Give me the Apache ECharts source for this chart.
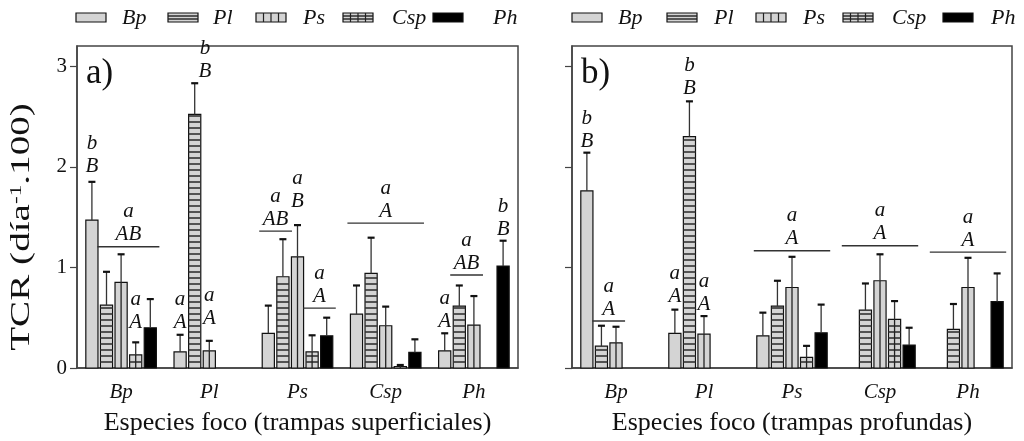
<!DOCTYPE html>
<html><head><meta charset="utf-8">
<script src="https://cdn.jsdelivr.net/npm/echarts@6/dist/echarts.min.js"></script>
<style>html,body{margin:0;padding:0;background:#fff}#c{width:1024px;height:441px}</style>
</head><body><div id="c"></div>
<script>
// ---------- data ----------
const categories = ['Bp', 'Pl', 'Ps', 'Csp', 'Ph'];
const species = ['Bp', 'Pl', 'Ps', 'Csp', 'Ph'];
const yTickValues = [0, 1, 2, 3];

// a) trampas superficiales: mean and SE for each species (bar) in each focus category
const supBp  = [1.47, 0.16, 0.345, 0.536, 0.17];
const supPl  = [0.625, 2.52, 0.907, 0.94, 0.615];
const supPs  = [0.85, 0.17, 1.105, 0.42, 0.427];
const supCsp = [0.13, null, 0.16, 0.015, null];
const supPh  = [0.40, null, 0.32, 0.155, 1.013];
const supBpSE  = [0.38, 0.17, 0.275, 0.284, 0.175];
const supPlSE  = [0.331, 0.31, 0.373, 0.355, 0.205];
const supPsSE  = [0.28, 0.10, 0.315, 0.19, 0.288];
const supCspSE = [0.125, null, 0.165, 0.015, null];
const supPhSE  = [0.285, null, 0.18, 0.13, 0.252];

// b) trampas profundas
const profBp  = [1.76, 0.345, 0.32, null, null];
const profPl  = [0.218, 2.30, 0.615, 0.576, 0.384];
const profPs  = [0.25, 0.337, 0.80, 0.867, 0.80];
const profCsp = [null, null, 0.106, 0.483, null];
const profPh  = [null, null, 0.35, 0.228, 0.66];
const profBpSE  = [0.38, 0.235, 0.23, null, null];
const profPlSE  = [0.202, 0.35, 0.252, 0.264, 0.252];
const profPsSE  = [0.16, 0.179, 0.305, 0.263, 0.295];
const profCspSE = [null, null, 0.114, 0.182, null];
const profPhSE  = [null, null, 0.28, 0.172, 0.28];

// significance letters: [category, first bar, last bar, level (TCR), lower letter, upper letter, bracket line]
const supLetters = [
  [0, 0, 0, 1.88, 'b', 'B', 0],
  [0, 1, 4, 1.205, 'a', 'AB', 1],
  [0, 3, 3, 0.33, 'a', 'A', 0],
  [1, 0, 0, 0.33, 'a', 'A', 0],
  [1, 1.7, 1.7, 2.825, 'b', 'B', 0],
  [1, 2, 2, 0.37, 'a', 'A', 0],
  [2, 0, 1, 1.36, 'a', 'AB', 1],
  [2, 2, 2, 1.54, 'a', 'B', 0],
  [2, 3, 4, 0.596, 'a', 'A', 1],
  [3, 0, 4, 1.44, 'a', 'A', 1],
  [4, 0, 0, 0.34, 'a', 'A', 0],
  [4, 1, 2, 0.924, 'a', 'AB', 1],
  [4, 4, 4, 1.255, 'b', 'B', 0]
];
const profLetters = [
  [0, 0, 0, 2.13, 'b', 'B', 0],
  [0, 1, 2, 0.467, 'a', 'A', 1],
  [1, 0, 0, 0.59, 'a', 'A', 0],
  [1, 1, 1, 2.655, 'b', 'B', 0],
  [1, 2, 2, 0.51, 'a', 'A', 0],
  [2, 0, 4, 1.165, 'a', 'A', 1],
  [3, 0, 4, 1.215, 'a', 'A', 1],
  [4, 0, 4, 1.152, 'a', 'A', 1]
];

const panelNames = ['Especies foco (trampas superficiales)', 'Especies foco (trampas profundas)'];
const panelTags = ['a)', 'b)'];

// ---------- drawing ----------
const FONT = 'Liberation Serif';
const GRAY = '#d4d4d4';
const INK = '#111';
const AX = '#444';

function layout(api) {
  const band = api.size([1, 0])[0];
  const bw = band * 0.8 / 5.8;
  return { bw: bw, pitch: bw * 1.2 };
}

function barSeries(g, s, vals, ses) {
  const data = vals.map((v, i) => [i, v, ses[i]]).filter(d => d[1] != null);
  return {
    type: 'custom', name: species[s], xAxisIndex: g, yAxisIndex: g, data: data, z: 3,
    renderItem: function (params, api) {
      const cat = api.value(0), v = api.value(1), se = api.value(2);
      const L = layout(api);
      const base = api.coord([cat, 0]);
      const top = api.coord([cat, v]);
      const et = api.coord([cat, v + se]);
      const cx = base[0] + (s - 2) * L.pitch;
      const x0 = cx - L.bw / 2;
      const kids = [];
      kids.push({ type: 'rect', shape: { x: x0, y: top[1], width: L.bw, height: base[1] - top[1] },
        style: { fill: s === 4 ? '#000' : GRAY, stroke: INK, lineWidth: 1.2 } });
      if (s === 1 || s === 3) {
        for (let y = base[1] - 6; y > top[1] + 1.5; y -= 6) {
          kids.push({ type: 'line', shape: { x1: x0, y1: y, x2: x0 + L.bw, y2: y },
            style: { stroke: '#333', lineWidth: 1.6 } });
        }
      }
      if (s === 2 || s === 3) {
        for (let k = -2; k <= 2; k++) {
          const xx = cx + k * 7.5;
          if (Math.abs(xx - cx) < L.bw / 2 - 1) {
            kids.push({ type: 'line', shape: { x1: xx, y1: top[1], x2: xx, y2: base[1] },
              style: { stroke: '#222', lineWidth: 1.3 } });
          }
        }
      }
      kids.push({ type: 'line', shape: { x1: cx, y1: top[1], x2: cx, y2: et[1] },
        style: { stroke: '#333', lineWidth: 1.3 } });
      kids.push({ type: 'line', shape: { x1: cx - 3.5, y1: et[1], x2: cx + 3.5, y2: et[1] },
        style: { stroke: INK, lineWidth: 2.2 } });
      return { type: 'group', children: kids };
    }
  };
}

function letterSeries(g, rows) {
  return {
    type: 'custom', xAxisIndex: g, yAxisIndex: g, z: 4,
    data: rows.map(r => [r[0], r[3]]),
    renderItem: function (params, api) {
      const r = rows[params.dataIndex];
      const L = layout(api);
      const p = api.coord([r[0], r[3]]);
      const xa = p[0] + (r[1] - 2) * L.pitch;
      const xb = p[0] + (r[2] - 2) * L.pitch;
      const cx = (xa + xb) / 2;
      const kids = [];
      if (r[6]) {
        kids.push({ type: 'line', shape: { x1: xa - L.bw / 2 - 3, y1: p[1], x2: xb + L.bw / 2 + 3, y2: p[1] },
          style: { stroke: '#333', lineWidth: 1.3 } });
      }
      const st = { font: 'italic 21px "' + FONT + '"', fill: INK, align: 'center', verticalAlign: 'middle' };
      kids.push({ type: 'text', x: cx, y: p[1] - 12, style: Object.assign({ text: r[5] }, st) });
      kids.push({ type: 'text', x: cx, y: p[1] - 35, style: Object.assign({ text: r[4] }, st) });
      return { type: 'group', children: kids };
    }
  };
}

const grids = [
  { left: 77, right: 506, top: 46, bottom: 73 },
  { left: 572, right: 12, top: 46, bottom: 73 }
];

const xAxes = grids.map((gr, g) => ({
  type: 'category', gridIndex: g, data: categories, boundaryGap: true,
  axisLine: { lineStyle: { color: AX, width: 1.5 } },
  axisTick: { alignWithLabel: true, length: 9, lineStyle: { color: AX, width: 1.2 } },
  axisLabel: { fontFamily: FONT, fontStyle: 'italic', fontSize: 21, color: INK, margin: 14 },
  name: panelNames[g], nameLocation: 'middle', nameGap: 42,
  nameTextStyle: { fontFamily: FONT, fontSize: 26, color: INK }
}));

const yAxes = grids.map((gr, g) => ({
  type: 'value', gridIndex: g, min: 0, max: 3.2, interval: 1,
  splitLine: { show: false },
  axisLine: { show: true, lineStyle: { color: AX, width: 1.5 } },
  axisTick: { show: true, length: 7, customValues: yTickValues, lineStyle: { color: AX, width: 1.2 } },
  axisLabel: { show: g === 0, customValues: yTickValues, fontFamily: FONT, fontSize: 21, color: INK, margin: 10 }
}));

const series = [
  barSeries(0, 0, supBp, supBpSE), barSeries(0, 1, supPl, supPlSE), barSeries(0, 2, supPs, supPsSE),
  barSeries(0, 3, supCsp, supCspSE), barSeries(0, 4, supPh, supPhSE),
  barSeries(1, 0, profBp, profBpSE), barSeries(1, 1, profPl, profPlSE), barSeries(1, 2, profPs, profPsSE),
  barSeries(1, 3, profCsp, profCspSE), barSeries(1, 4, profPh, profPhSE),
  letterSeries(0, supLetters), letterSeries(1, profLetters)
];

// legend drawn as graphics
function legendIcon(s, x, y) {
  const w = 30, h = 9;
  const kids = [{ type: 'rect', shape: { x: x, y: y, width: w, height: h },
    style: { fill: s === 4 ? '#000' : GRAY, stroke: INK, lineWidth: 1.2 } }];
  if (s === 1 || s === 3) {
    [1, 2].forEach(k => kids.push({ type: 'line', shape: { x1: x, y1: y + k * h / 3, x2: x + w, y2: y + k * h / 3 },
      style: { stroke: '#222', lineWidth: 1.4 } }));
  }
  if (s === 2 || s === 3) {
    [1, 2, 3].forEach(k => kids.push({ type: 'line', shape: { x1: x + k * w / 4, y1: y, x2: x + k * w / 4, y2: y + h },
      style: { stroke: '#222', lineWidth: 1.2 } }));
  }
  return kids;
}
const legendRectX = [[76, 168, 256, 343, 433], [572, 667, 756, 843, 943]];
const legendTextX = [[122, 213, 303, 392, 493], [618, 714, 803, 892, 991]];
const graphics = [];
for (let g = 0; g < 2; g++) {
  for (let s = 0; s < 5; s++) {
    legendIcon(s, legendRectX[g][s], 13).forEach(e => graphics.push(e));
    graphics.push({ type: 'text', x: legendTextX[g][s], y: 18,
      style: { text: species[s], font: 'italic 22px "' + FONT + '"', fill: INK, align: 'left', verticalAlign: 'middle' } });
  }
}
graphics.push({ type: 'text', x: 86, y: 74, style: { text: panelTags[0], font: '35px "' + FONT + '"', fill: INK, align: 'left', verticalAlign: 'middle' } });
graphics.push({ type: 'text', x: 581, y: 74, style: { text: panelTags[1], font: '35px "' + FONT + '"', fill: INK, align: 'left', verticalAlign: 'middle' } });
graphics.push({ type: 'text', x: 22, y: 227, rotation: Math.PI / 2, scaleX: 1.45,
  style: { text: 'TCR (día{s|-1}.100)', font: '27px "' + FONT + '"', fill: INK, align: 'center', verticalAlign: 'middle',
    rich: { s: { fontSize: 16, fontFamily: FONT, verticalAlign: 'top', lineHeight: 27, padding: [0, 0, 12, 0] } } } });

const chart = echarts.init(document.getElementById('c'), null, { renderer: 'canvas' });
chart.setOption({
  animation: false,
  backgroundColor: '#fff',
  grid: grids.map(gr => Object.assign({ show: true, borderColor: AX, borderWidth: 1.5, backgroundColor: 'transparent',
    containLabel: false, outerBoundsMode: 'none' }, gr)),
  xAxis: xAxes,
  yAxis: yAxes,
  series: series,
  graphic: graphics
});
</script></body></html>
